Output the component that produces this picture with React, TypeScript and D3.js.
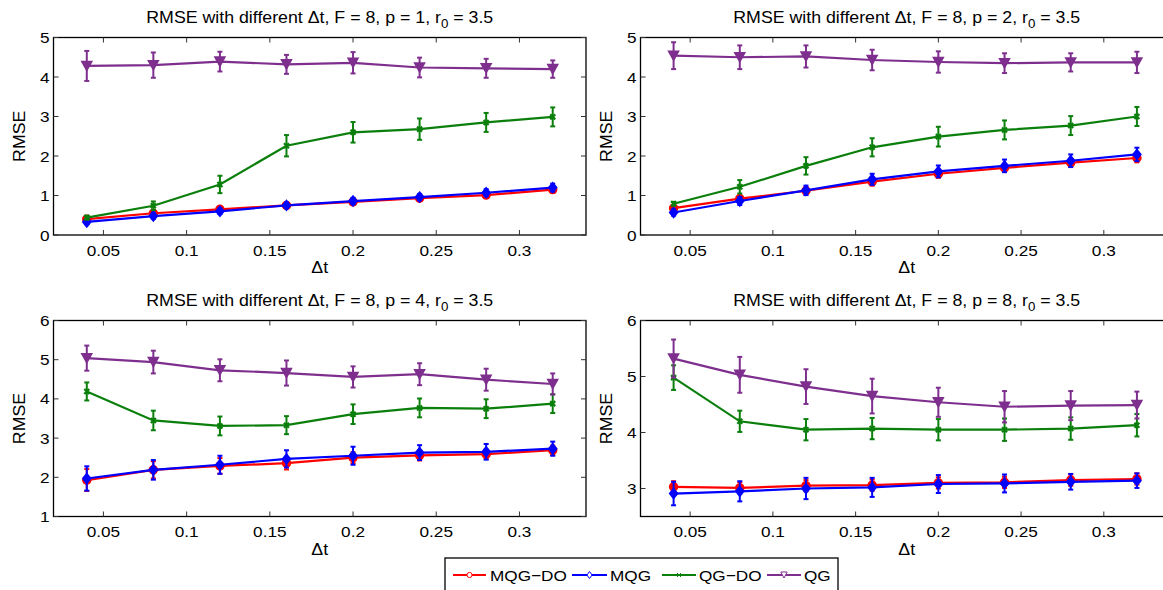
import React from "react";
import * as d3 from "d3";

// ---------- DATA ----------
const dtValues = [0.04, 0.08, 0.12, 0.16, 0.2, 0.24, 0.28, 0.32];
const xTickValues = [0.05, 0.1, 0.15, 0.2, 0.25, 0.3];
const seriesNames = ["MQG\u2212DO", "MQG", "QG\u2212DO", "QG"];
const panelP = [1, 2, 4, 8];

// p = 1
const p1MqgDo = [0.40, 0.55, 0.65, 0.75, 0.84, 0.93, 1.01, 1.15];
const p1MqgDoErr = [0.05, 0.06, 0.06, 0.06, 0.07, 0.07, 0.07, 0.08];
const p1Mqg = [0.33, 0.48, 0.60, 0.75, 0.86, 0.96, 1.07, 1.20];
const p1MqgErr = [0.06, 0.07, 0.07, 0.07, 0.08, 0.08, 0.09, 0.10];
const p1QgDo = [0.44, 0.74, 1.28, 2.26, 2.60, 2.68, 2.85, 2.99];
const p1QgDoErr = [0.05, 0.11, 0.22, 0.27, 0.26, 0.27, 0.24, 0.24];
const p1Qg = [4.28, 4.30, 4.39, 4.32, 4.36, 4.24, 4.22, 4.20];
const p1QgErr = [0.38, 0.32, 0.25, 0.24, 0.27, 0.25, 0.24, 0.22];

// p = 2
const p2MqgDo = [0.68, 0.92, 1.12, 1.35, 1.55, 1.70, 1.83, 1.95];
const p2MqgDoErr = [0.06, 0.08, 0.09, 0.10, 0.10, 0.10, 0.10, 0.11];
const p2Mqg = [0.57, 0.86, 1.13, 1.41, 1.61, 1.75, 1.88, 2.04];
const p2MqgErr = [0.08, 0.10, 0.12, 0.14, 0.15, 0.16, 0.16, 0.17];
const p2QgDo = [0.79, 1.22, 1.75, 2.22, 2.49, 2.66, 2.77, 3.00];
const p2QgDoErr = [0.05, 0.17, 0.22, 0.23, 0.25, 0.24, 0.24, 0.24];
const p2Qg = [4.54, 4.50, 4.52, 4.43, 4.38, 4.35, 4.37, 4.37];
const p2QgErr = [0.34, 0.30, 0.28, 0.26, 0.27, 0.25, 0.23, 0.27];

// p = 4
const p4MqgDo = [1.93, 2.19, 2.29, 2.36, 2.50, 2.56, 2.59, 2.69];
const p4MqgDoErr = [0.28, 0.22, 0.20, 0.16, 0.14, 0.13, 0.12, 0.12];
const p4Mqg = [1.97, 2.19, 2.32, 2.47, 2.55, 2.63, 2.65, 2.73];
const p4MqgErr = [0.31, 0.25, 0.23, 0.22, 0.23, 0.19, 0.20, 0.18];
const p4QgDo = [4.19, 3.45, 3.31, 3.33, 3.61, 3.77, 3.75, 3.88];
const p4QgDoErr = [0.23, 0.25, 0.24, 0.23, 0.25, 0.24, 0.24, 0.24];
const p4Qg = [5.04, 4.94, 4.73, 4.66, 4.56, 4.63, 4.49, 4.38];
const p4QgErr = [0.32, 0.29, 0.28, 0.32, 0.27, 0.28, 0.28, 0.27];

// p = 8
const p8MqgDo = [3.03, 3.01, 3.05, 3.06, 3.10, 3.11, 3.15, 3.17];
const p8MqgDoErr = [0.10, 0.10, 0.10, 0.10, 0.10, 0.10, 0.10, 0.10];
const p8Mqg = [2.91, 2.95, 3.00, 3.02, 3.08, 3.09, 3.12, 3.14];
const p8MqgErr = [0.21, 0.18, 0.19, 0.17, 0.16, 0.16, 0.14, 0.13];
const p8QgDo = [4.98, 4.20, 4.05, 4.07, 4.05, 4.05, 4.07, 4.13];
const p8QgDoErr = [0.22, 0.19, 0.19, 0.19, 0.19, 0.20, 0.20, 0.20];
const p8Qg = [5.32, 5.03, 4.82, 4.65, 4.54, 4.46, 4.48, 4.49];
const p8QgErr = [0.34, 0.32, 0.31, 0.31, 0.26, 0.28, 0.26, 0.24];

const yDomains: [number, number][] = [[0, 5], [0, 5], [1, 6], [2.5, 6]];
const yTickSets = [[0, 1, 2, 3, 4, 5], [0, 1, 2, 3, 4, 5], [1, 2, 3, 4, 5, 6], [3, 4, 5, 6]];

const panelSeries = [
  [[p1MqgDo, p1MqgDoErr], [p1Mqg, p1MqgErr], [p1QgDo, p1QgDoErr], [p1Qg, p1QgErr]],
  [[p2MqgDo, p2MqgDoErr], [p2Mqg, p2MqgErr], [p2QgDo, p2QgDoErr], [p2Qg, p2QgErr]],
  [[p4MqgDo, p4MqgDoErr], [p4Mqg, p4MqgErr], [p4QgDo, p4QgDoErr], [p4Qg, p4QgErr]],
  [[p8MqgDo, p8MqgDoErr], [p8Mqg, p8MqgErr], [p8QgDo, p8QgDoErr], [p8Qg, p8QgErr]],
];

// ---------- STYLE / LAYOUT ----------
const COLORS = ["#ff0000", "#0000ff", "#0b7f0b", "#7e2f8e"];
const FONT = "'Liberation Sans', Arial, Helvetica, sans-serif";
const SX = 1.11;
const boxes = [
  { x0: 53.5, x1: 586, y0: 37.5, y1: 235 },
  { x0: 640.5, x1: 1170, y0: 37.5, y1: 235 },
  { x0: 53.5, x1: 586, y0: 320.5, y1: 516.5 },
  { x0: 640.5, x1: 1170, y0: 320.5, y1: 516.5 },
];

function T({ x, y, anchor, size, children, rotate }: { x: number; y: number; anchor?: string; size: number; children: any; rotate?: boolean }) {
  const tr = rotate ? `translate(${x},${y}) rotate(-90) scale(${SX},1)` : `translate(${x},${y}) scale(${SX},1)`;
  return (
    <text transform={tr} textAnchor={anchor || "start"} fontSize={size} fontFamily={FONT} fill="#000">
      {children}
    </text>
  );
}

function Marker({ kind, x, y, color, legend }: { kind: number; x: number; y: number; color: string; legend?: boolean }) {
  const fill = legend ? "white" : color;
  const sw = legend ? 1 : 1.5;
  if (kind === 0) {
    const r = legend ? 2.6 : 4;
    return <circle cx={x} cy={y} r={r} fill={fill} stroke={color} strokeWidth={sw} />;
  }
  if (kind === 1) {
    const s = legend ? 3.5 : 5;
    const w = legend ? 2.6 : 4;
    return <path d={`M${x},${y - s}L${x + w},${y}L${x},${y + s}L${x - w},${y}Z`} fill={fill} stroke={color} strokeWidth={sw} />;
  }
  if (kind === 2) {
    const s = legend ? 2 : 2.5;
    return <path d={`M${x - s},${y - s}L${x + s},${y + s}M${x - s},${y + s}L${x + s},${y - s}`} stroke={color} strokeWidth={legend ? 1 : 2.2} />;
  }
  const w = legend ? 3.2 : 5;
  const h = legend ? 3 : 4.5;
  return <path d={`M${x - w},${y - h}L${x + w},${y - h}L${x},${y + h}Z`} fill={fill} stroke={color} strokeWidth={sw} />;
}

function Panel({ idx }: { idx: number }) {
  const b = boxes[idx];
  const x = d3.scaleLinear().domain([0.02, 0.34]).range([b.x0, b.x1]);
  const y = d3.scaleLinear().domain(yDomains[idx]).range([b.y1, b.y0]);
  const line = d3.line<number>().x((_, i) => x(dtValues[i])).y((v) => y(v));
  const tickLen = 5;
  const cap = 2.5;
  const titleX = (53.5 + 586) / 2 + (idx % 2) * 587;
  return (
    <g>
      <T x={titleX} y={b.y0 - 14.5} anchor="middle" size={16}>
        {`RMSE with different \u0394t, F = 8, p = ${panelP[idx]}, r`}
        <tspan fontSize={12} dy={5}>0</tspan>
        <tspan dy={-5}>{" = 3.5"}</tspan>
      </T>
      <rect x={b.x0} y={b.y0} width={b.x1 - b.x0} height={b.y1 - b.y0} fill="white" stroke="black" strokeWidth={1.3} />
      {xTickValues.map((t) => (
        <g key={"xt" + t}>
          <line x1={x(t)} x2={x(t)} y1={b.y1} y2={b.y1 - tickLen} stroke="#333" strokeWidth={1} />
          <line x1={x(t)} x2={x(t)} y1={b.y0} y2={b.y0 + tickLen} stroke="#333" strokeWidth={1} />
          <T x={x(t)} y={b.y1 + 20.5} anchor="middle" size={15.5}>{String(t)}</T>
        </g>
      ))}
      {yTickSets[idx].map((t) => (
        <g key={"yt" + t}>
          <line x1={b.x0} x2={b.x0 + tickLen} y1={y(t)} y2={y(t)} stroke="#333" strokeWidth={1} />
          <line x1={b.x1} x2={b.x1 - tickLen} y1={y(t)} y2={y(t)} stroke="#333" strokeWidth={1} />
          <T x={b.x0 - 4} y={y(t) + 5.5} anchor="end" size={15.5}>{String(t)}</T>
        </g>
      ))}
      <T x={titleX} y={b.y1 + 38} anchor="middle" size={16}>{"\u0394t"}</T>
      <T x={b.x0 - 29} y={(b.y0 + b.y1) / 2} anchor="middle" size={16} rotate>RMSE</T>
      {panelSeries[idx].map(([vals, errs], s) => (
        <g key={"s" + s}>
          {vals.map((v, i) => (
            <g key={"e" + i} stroke={COLORS[s]} strokeWidth={2}>
              <line x1={x(dtValues[i])} x2={x(dtValues[i])} y1={y(v - errs[i])} y2={y(v + errs[i])} />
              <line x1={x(dtValues[i]) - cap} x2={x(dtValues[i]) + cap} y1={y(v - errs[i])} y2={y(v - errs[i])} />
              <line x1={x(dtValues[i]) - cap} x2={x(dtValues[i]) + cap} y1={y(v + errs[i])} y2={y(v + errs[i])} />
            </g>
          ))}
          <path d={line(vals) || ""} fill="none" stroke={COLORS[s]} strokeWidth={2.2} />
          {vals.map((v, i) => (
            <Marker key={"m" + i} kind={s} x={x(dtValues[i])} y={y(v)} color={COLORS[s]} />
          ))}
        </g>
      ))}
    </g>
  );
}

function Legend() {
  const lx = 445;
  const ly = 558;
  const entries = [
    { l0: 453, l1: 486, t: 490 },
    { l0: 572, l1: 607, t: 610 },
    { l0: 662, l1: 696, t: 699 },
    { l0: 767, l1: 801, t: 804 },
  ];
  const cyL = ly + 17;
  return (
    <g>
      <rect x={lx} y={ly} width={393} height={40} fill="white" stroke="black" strokeWidth={1.3} />
      {entries.map((e, s) => (
        <g key={"lg" + s}>
          <line x1={e.l0} x2={e.l1} y1={cyL} y2={cyL} stroke={COLORS[s]} strokeWidth={2.2} />
          <Marker kind={s} x={(e.l0 + e.l1) / 2} y={cyL} color={COLORS[s]} legend />
          <T x={e.t} y={cyL + 6} size={15.5}>{seriesNames[s]}</T>
        </g>
      ))}
    </g>
  );
}

export default function App() {
  return (
    <svg width={1163} height={590} style={{ position: "absolute", left: 0, top: 0, background: "white" }}>
      <rect x={0} y={0} width={1163} height={590} fill="white" />
      {[0, 1, 2, 3].map((i) => (
        <Panel key={i} idx={i} />
      ))}
      <Legend />
    </svg>
  );
}
